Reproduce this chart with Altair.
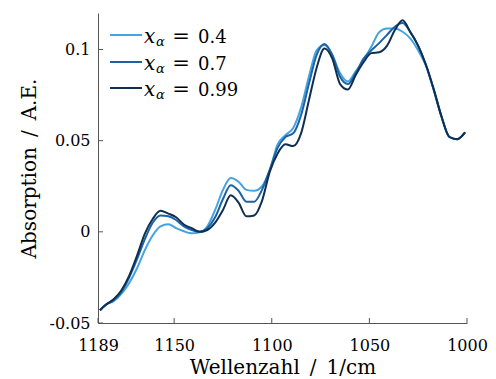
import altair as alt
import pandas as pd

# ---- data ----
wavenumber = [1188, 1185, 1181, 1177, 1173, 1169, 1165, 1161, 1157, 1153, 1149, 1145,
              1141, 1137, 1133, 1129, 1125, 1121, 1117, 1113, 1109, 1105, 1101, 1097,
              1093, 1089, 1085, 1081, 1077, 1073, 1069, 1065, 1061, 1057, 1053, 1049,
              1045, 1041, 1037, 1033, 1029, 1025, 1021, 1017, 1013, 1009, 1005, 1001]

absorb_04 = [-0.043, -0.040, -0.038, -0.034, -0.028, -0.020, -0.010, -0.002, 0.003, 0.0042,
             0.002, 0.0003, -0.0008, -0.0003, 0.003, 0.012, 0.023, 0.0295, 0.0275, 0.023,
             0.0225, 0.025, 0.034, 0.048, 0.053, 0.057, 0.068, 0.085, 0.0995, 0.1025,
             0.097, 0.087, 0.0825, 0.088, 0.094, 0.1015, 0.1095, 0.1115, 0.1115, 0.1097,
             0.106, 0.0995, 0.091, 0.0775, 0.063, 0.052, 0.0508, 0.0545]

absorb_07 = [-0.043, -0.040, -0.0375, -0.033, -0.025, -0.015, -0.004, 0.005, 0.009, 0.0085,
             0.0065, 0.003, 0.001, 0.0, 0.002, 0.008, 0.018, 0.0255, 0.0225, 0.0165,
             0.0165, 0.023, 0.034, 0.046, 0.052, 0.054, 0.064, 0.081, 0.097, 0.103,
             0.097, 0.085, 0.081, 0.087, 0.095, 0.0995, 0.1035, 0.108, 0.1125, 0.1145,
             0.1095, 0.102, 0.0915, 0.078, 0.063, 0.052, 0.0508, 0.0545]

absorb_099 = [-0.043, -0.040, -0.037, -0.032, -0.024, -0.013, -0.001, 0.007, 0.0115, 0.010,
              0.008, 0.004, 0.002, 0.0, 0.001, 0.005, 0.012, 0.020, 0.016, 0.0085,
              0.009, 0.017, 0.033, 0.043, 0.048, 0.047, 0.054, 0.072, 0.090, 0.1005,
              0.095, 0.081, 0.078, 0.086, 0.093, 0.098, 0.0985, 0.102, 0.1105, 0.116,
              0.1095, 0.102, 0.0915, 0.078, 0.063, 0.052, 0.0508, 0.0545]

series_labels = ["0.4", "0.7", "0.99"]
series_colors = ["#45a3e0", "#1c62a6", "#0f2f50"]
series_values = [absorb_04, absorb_07, absorb_099]

x_ticks = [1189, 1150, 1100, 1050, 1000]
y_ticks = [-0.05, 0, 0.05, 0.1]

# ---- layout ----
W, H = 369, 310
FONT = "DejaVu Serif"
AXIS_COLOR = "#555555"

xscale = alt.Scale(domain=[1000, 1189], reverse=True, nice=False, zero=False)
yscale = alt.Scale(domain=[-0.05, 0.12], nice=False, zero=False)

xaxis = alt.Axis(values=x_ticks, format="d", title="Wellenzahl\u2002/\u20021/cm",
                 grid=False, ticks=False, labelPadding=27, labelBaseline="alphabetic",
                 labelFont=FONT, labelFontSize=16, labelColor="black",
                 labelFlush=False, labelOverlap=False,
                 titleFont=FONT, titleFontSize=20, titleFontWeight="normal",
                 titleColor="black", titleBaseline="alphabetic",
                 titleX=W / 2, titleY=50, domainColor=AXIS_COLOR, domainWidth=1)

yaxis = alt.Axis(values=y_ticks, labelExpr="'' + datum.value", title="Absorption\u2002/\u2002A.E.",
                 grid=False, ticks=False, labelPadding=8, labelBaseline="middle",
                 labelFont=FONT, labelFontSize=16, labelColor="black", labelOverlap=False,
                 labelFlush=False,
                 titleFont=FONT, titleFontSize=20, titleFontWeight="normal",
                 titleColor="black", titleBaseline="alphabetic", titleAngle=270,
                 titleAlign="center", titleX=-63, titleY=H / 2,
                 domainColor=AXIS_COLOR, domainWidth=1)

layers = []
for lab, vals, col in zip(series_labels, series_values, series_colors):
    df = pd.DataFrame({"w": wavenumber, "a": vals})
    layers.append(
        alt.Chart(df).mark_line(color=col, strokeWidth=2, interpolate="monotone").encode(
            x=alt.X("w:Q", scale=xscale, axis=xaxis),
            y=alt.Y("a:Q", scale=yscale, axis=yaxis),
        )
    )

# inward ticks
layers.append(
    alt.Chart(pd.DataFrame({"w": x_ticks})).mark_rule(color=AXIS_COLOR, strokeWidth=1).encode(
        x=alt.X("w:Q", scale=xscale, axis=xaxis), y=alt.value(H), y2=alt.value(H - 5)
    )
)
layers.append(
    alt.Chart(pd.DataFrame({"a": y_ticks})).mark_rule(color=AXIS_COLOR, strokeWidth=1).encode(
        y=alt.Y("a:Q", scale=yscale, axis=yaxis), x=alt.value(0), x2=alt.value(5)
    )
)

# legend (inside, top-left)
row_y = [22, 49, 75]
for lab, col, ry in zip(series_labels, series_colors, row_y):
    one = pd.DataFrame({"t": [lab]})
    layers.append(alt.Chart(one).mark_rule(color=col, strokeWidth=2).encode(
        x=alt.value(12), x2=alt.value(44), y=alt.value(ry)))
    layers.append(alt.Chart(one).mark_text(text="x", font=FONT, fontStyle="italic", fontSize=20,
                                           align="left", baseline="alphabetic", color="black").encode(
        x=alt.value(46), y=alt.value(ry + 8)))
    layers.append(alt.Chart(one).mark_text(text="α", font=FONT, fontStyle="italic", fontSize=13,
                                           align="left", baseline="alphabetic", color="black").encode(
        x=alt.value(58), y=alt.value(ry + 11)))
    layers.append(alt.Chart(one).mark_text(text="=", font=FONT, fontSize=21,
                                           align="center", baseline="alphabetic", color="black").encode(
        x=alt.value(83), y=alt.value(ry + 8)))
    layers.append(alt.Chart(one).mark_text(font=FONT, fontSize=18,
                                           align="left", baseline="alphabetic", color="black").encode(
        x=alt.value(100), y=alt.value(ry + 8), text="t:N"))

chart = alt.layer(*layers).properties(
    width=W, height=H,
    autosize=alt.AutoSizeParams(type="none"),
    padding={"left": 98, "top": 13, "right": 29, "bottom": 56},
    background="white",
).configure_view(strokeWidth=0)

chart.save("out.html", embed_options={"renderer": "svg", "actions": False})
